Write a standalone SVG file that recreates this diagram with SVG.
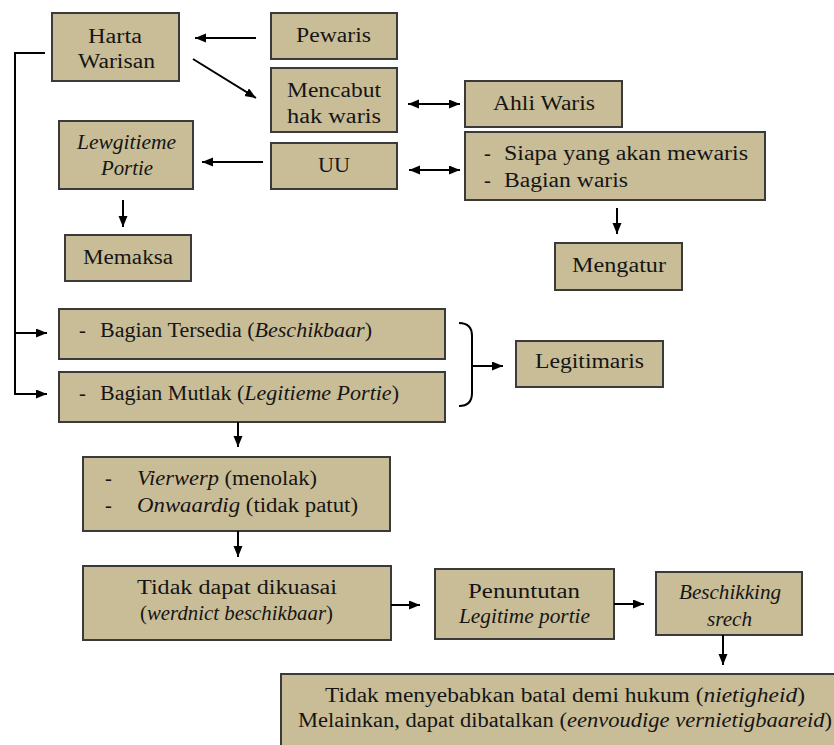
<svg xmlns="http://www.w3.org/2000/svg" width="834" height="745" viewBox="0 0 834 745" font-family="'Liberation Serif', 'DejaVu Serif', serif">
<style>
.box{fill:#c9bd97;stroke:#3a3a3a;stroke-width:2}
text{font-family:'Liberation Serif','DejaVu Serif',serif;font-size:20.5px;fill:#151515}
.c{text-anchor:middle}
.i{font-style:italic}
.ln{fill:none;stroke:#000;stroke-width:2}
</style>
<defs>
<marker id="ah" markerUnits="userSpaceOnUse" markerWidth="12" markerHeight="10" refX="11" refY="4.5" orient="auto-start-reverse">
<path d="M0,0 L11,4.5 L0,9 z" fill="#000"/>
</marker>
</defs>
<rect width="834" height="745" fill="#fff"/>

<g id="harta"><rect class="box" x="52" y="13" width="127" height="68"/>
<text class="c" x="115" y="43" textLength="54" lengthAdjust="spacingAndGlyphs">Harta</text>
<text class="c" x="116.5" y="68" textLength="77" lengthAdjust="spacingAndGlyphs">Warisan</text></g>

<g id="pewaris"><rect class="box" x="271" y="13" width="126" height="46"/>
<text class="c" x="333.5" y="42" textLength="75" lengthAdjust="spacingAndGlyphs">Pewaris</text></g>

<g id="mencabut"><rect class="box" x="271" y="68" width="126" height="64"/>
<text class="c" x="334" y="97" textLength="94" lengthAdjust="spacingAndGlyphs">Mencabut</text>
<text class="c" x="334" y="123" textLength="94" lengthAdjust="spacingAndGlyphs">hak waris</text></g>

<g id="uu"><rect class="box" x="271" y="143" width="126" height="46"/>
<text class="c" x="334" y="172" textLength="32" lengthAdjust="spacingAndGlyphs">UU</text></g>

<g id="lewgitieme"><rect class="box" x="59" y="121" width="134" height="68"/>
<text class="c i" x="126.5" y="149" textLength="99" lengthAdjust="spacingAndGlyphs">Lewgitieme</text>
<text class="c i" x="127" y="175" textLength="52" lengthAdjust="spacingAndGlyphs">Portie</text></g>

<g id="memaksa"><rect class="box" x="65" y="235" width="126" height="46"/>
<text class="c" x="128" y="264" textLength="90" lengthAdjust="spacingAndGlyphs">Memaksa</text></g>

<g id="ahliwaris"><rect class="box" x="465" y="81" width="157" height="46"/>
<text class="c" x="544" y="110" textLength="102" lengthAdjust="spacingAndGlyphs">Ahli Waris</text></g>

<g id="siapa"><rect class="box" x="465" y="132" width="300" height="68"/>
<text x="484" y="160">-</text>
<text x="504" y="160" textLength="244" lengthAdjust="spacingAndGlyphs">Siapa yang akan mewaris</text>
<text x="484" y="187">-</text>
<text x="504" y="187" textLength="124" lengthAdjust="spacingAndGlyphs">Bagian waris</text></g>

<g id="mengatur"><rect class="box" x="555" y="243" width="127" height="47"/>
<text class="c" x="619" y="272" textLength="94" lengthAdjust="spacingAndGlyphs">Mengatur</text></g>

<g id="tersedia"><rect class="box" x="59" y="309" width="386" height="50"/>
<text x="79" y="337">-</text>
<text x="100" y="337" textLength="272" lengthAdjust="spacingAndGlyphs">Bagian Tersedia (<tspan class="i">Beschikbaar</tspan>)</text></g>

<g id="mutlak"><rect class="box" x="59" y="372" width="386" height="50"/>
<text x="79" y="400">-</text>
<text x="100" y="400" textLength="299" lengthAdjust="spacingAndGlyphs">Bagian Mutlak (<tspan class="i">Legitieme Portie</tspan>)</text></g>

<g id="legitimaris"><rect class="box" x="516" y="341" width="147" height="46"/>
<text class="c" x="589.5" y="368" textLength="109" lengthAdjust="spacingAndGlyphs">Legitimaris</text></g>

<g id="vierwerp"><rect class="box" x="83" y="457" width="307" height="74"/>
<text x="105" y="485">-</text>
<text x="137" y="485" textLength="180" lengthAdjust="spacingAndGlyphs"><tspan class="i">Vierwerp</tspan> (menolak)</text>
<text x="105" y="512">-</text>
<text x="137" y="512" textLength="221" lengthAdjust="spacingAndGlyphs"><tspan class="i">Onwaardig</tspan> (tidak patut)</text></g>

<g id="tidakdapat"><rect class="box" x="83" y="566" width="308" height="74"/>
<text class="c" x="237" y="594" textLength="200" lengthAdjust="spacingAndGlyphs">Tidak dapat dikuasai</text>
<text class="c" x="236.5" y="620" textLength="193" lengthAdjust="spacingAndGlyphs">(<tspan class="i">werdnict beschikbaar</tspan>)</text></g>

<g id="penuntutan"><rect class="box" x="435" y="569" width="179" height="70"/>
<text class="c" x="524" y="598" textLength="112" lengthAdjust="spacingAndGlyphs">Penuntutan</text>
<text class="c i" x="524.5" y="623" textLength="131" lengthAdjust="spacingAndGlyphs">Legitime portie</text></g>

<g id="beschikking"><rect class="box" x="656" y="572" width="146" height="63"/>
<text class="c i" x="730" y="599" textLength="102" lengthAdjust="spacingAndGlyphs">Beschikking</text>
<text class="c i" x="729.5" y="626" textLength="45" lengthAdjust="spacingAndGlyphs">srech</text></g>

<g id="hasil"><rect class="box" x="281" y="674" width="560" height="80"/>
<text class="c" x="565" y="702" textLength="480" lengthAdjust="spacingAndGlyphs">Tidak menyebabkan batal demi hukum (<tspan class="i">nietigheid</tspan>)</text>
<text class="c" x="565" y="727" textLength="534" lengthAdjust="spacingAndGlyphs">Melainkan, dapat dibatalkan (<tspan class="i">eenvoudige vernietigbaareid</tspan>)</text></g>

<g id="connectors">
<line class="ln" x1="256" y1="38" x2="195" y2="38" marker-end="url(#ah)"/>
<line class="ln" x1="193" y1="59" x2="256" y2="98" marker-end="url(#ah)"/>
<line class="ln" x1="408" y1="104" x2="460" y2="104" marker-start="url(#ah)" marker-end="url(#ah)"/>
<line class="ln" x1="409" y1="170" x2="460" y2="170" marker-start="url(#ah)" marker-end="url(#ah)"/>
<line class="ln" x1="263" y1="162" x2="202" y2="162" marker-end="url(#ah)"/>
<line class="ln" x1="123" y1="200" x2="123" y2="227" marker-end="url(#ah)"/>
<line class="ln" x1="617" y1="208" x2="617" y2="234" marker-end="url(#ah)"/>
<path class="ln" d="M45,53 H15 V394 H47" marker-end="url(#ah)"/>
<path class="ln" d="M15,333 H47" marker-end="url(#ah)"/>
<path class="ln" d="M459,323 Q472,323 472,336 V393 Q472,406 459,406"/>
<line class="ln" x1="472" y1="366" x2="503" y2="366" marker-end="url(#ah)"/>
<line class="ln" x1="238" y1="422" x2="238" y2="447" marker-end="url(#ah)"/>
<line class="ln" x1="238" y1="531" x2="238" y2="557" marker-end="url(#ah)"/>
<line class="ln" x1="391" y1="605" x2="420" y2="605" marker-end="url(#ah)"/>
<line class="ln" x1="614" y1="604" x2="644" y2="604" marker-end="url(#ah)"/>
<line class="ln" x1="723" y1="635" x2="723" y2="665" marker-end="url(#ah)"/>
</g>
</svg>
